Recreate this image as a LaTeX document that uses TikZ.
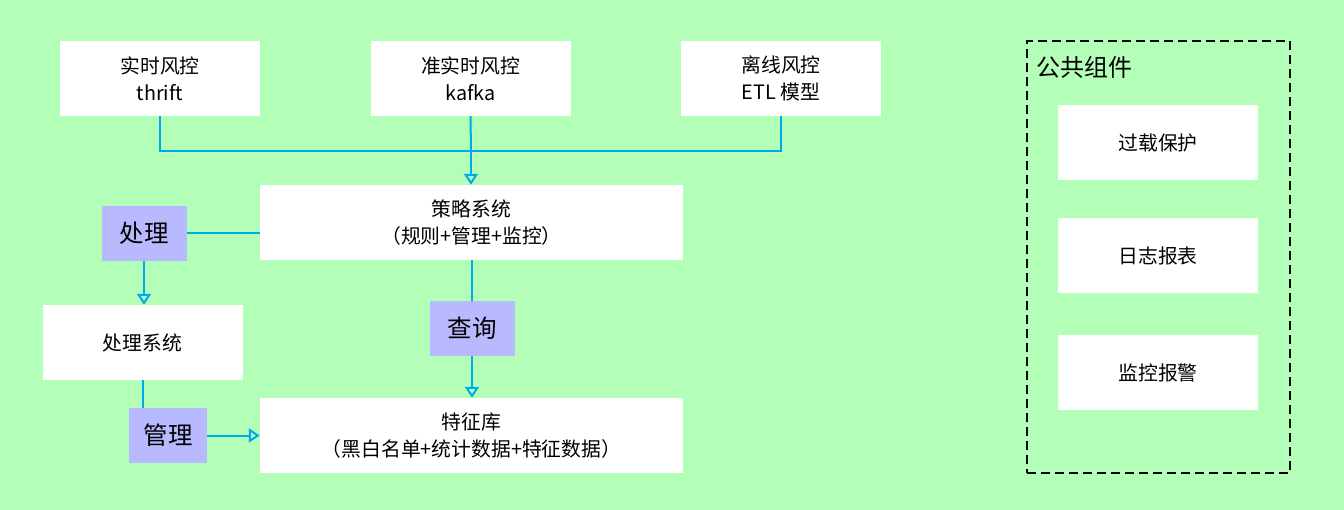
\documentclass[tikz,border=0pt]{standalone}
\usepackage{fontspec}
\setmainfont{Noto Sans CJK SC}
\usetikzlibrary{arrows.meta}
\definecolor{bggreen}{RGB}{179,255,184}
\definecolor{lav}{RGB}{185,185,255}
\definecolor{linec}{RGB}{0,168,240}
\tikzset{
  box/.style={fill=white, draw=none, minimum width=200pt, minimum height=75pt, align=center, font=\fontsize{19.8}{27}\selectfont, inner sep=0pt},
  wbox/.style={box, minimum width=423pt},
  lab/.style={fill=lav, draw=none, minimum width=85pt, minimum height=55pt, font=\fontsize{24.5}{27}\selectfont, inner sep=0pt},
  conn/.style={draw=linec, line width=2pt},
  arr/.style={conn, -{Triangle[open, width=14pt, length=11pt, line width=2pt]}},
}
\begin{document}
\begin{tikzpicture}[x=1pt,y=-1pt]
\fill[bggreen] (0,0) rectangle (1344,510);
\useasboundingbox (0,0) rectangle (1344,510);
\node[box] (rt) at (160,78.5) {实时风控\\thrift};
\node[box] (nrt) at (470.5,78.5) {准实时风控\\kafka};
\node[box] (off) at (781,78.5) {离线风控\\ETL 模型};
\node[wbox] (cl) at (471.5,222.5) {策略系统\\（规则+管理+监控）};
\node[lab] (cl1) at (144,233.5) {处理};
\node[box] (proc) at (142.5,342.5) {处理系统};
\node[lab, minimum width=78pt] (mg) at (168,435.5) {管理};
\node[lab] (q) at (472,328.5) {查询};
\node[wbox] (feat) at (471.5,435.5) {特征库\\（黑白名单+统计数据+特征数据）};
\coordinate (bus) at (471,151);
% top bus
\draw[conn] (rt.south) |- (off.south |- bus) -- (off.south);
\draw[conn] (nrt.south) -- (bus);
\draw[arr] (bus) -- (bus |- cl.north);
% process
\draw[conn] (cl.west |- cl1.east) -- (cl1.east);
\draw[arr] (cl1.south) -- (cl1.south |- proc.north);
\draw[conn] (proc.south) -- (proc.south |- mg.north);
\draw[arr] (mg.east) -- (feat.west |- mg.east);
% query
\draw[conn] (cl.south -| q.north) -- (q.north);
\draw[arr] (q.south) -- (q.south |- feat.north);
% public components
\node[draw=black, dashed, line width=1.8pt, dash pattern=on 9pt off 5pt, minimum width=263pt, minimum height=432pt, inner sep=0pt] (pub) at (1158.5,257) {};
\node[anchor=west, font=\fontsize{24}{27}\selectfont, inner sep=0pt] (pubt) at (1036,67) {公共组件};
\node[box] (c1) at (1158,142.5) {过载保护};
\node[box] (c2) at (1158,255.5) {日志报表};
\node[box] (c3) at (1158,372.5) {监控报警};
\end{tikzpicture}
\end{document}
